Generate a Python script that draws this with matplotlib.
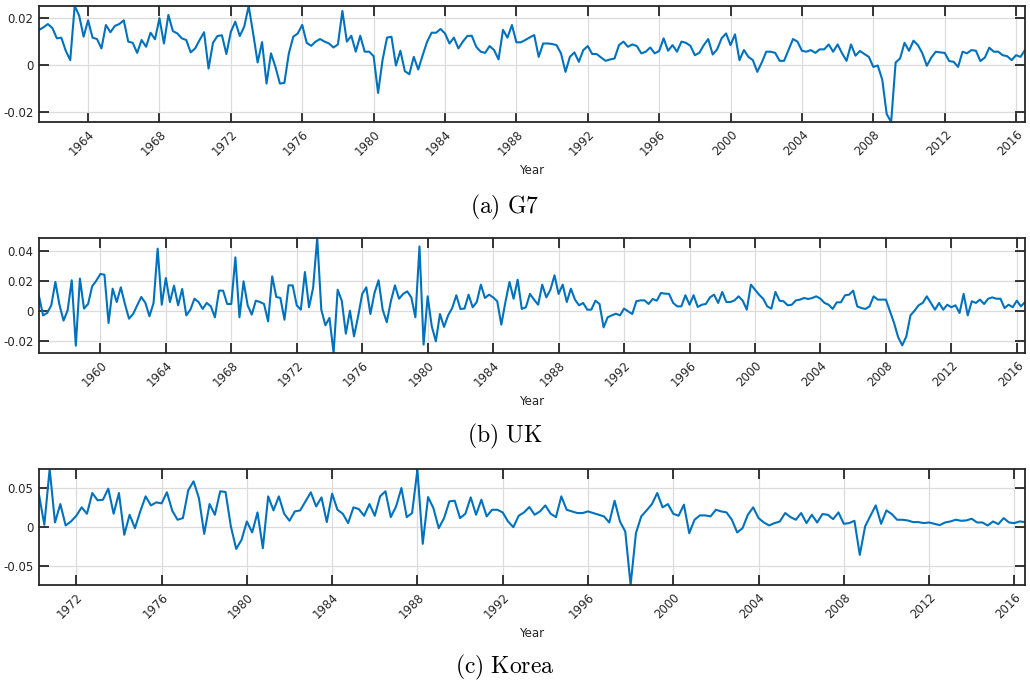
import numpy as np
import matplotlib
matplotlib.use("Agg")
import matplotlib.pyplot as plt

plt.rcParams['mathtext.fontset'] = 'cm'
plt.rcParams['font.family'] = 'DejaVu Sans'

# quarterly growth rates
g7_start = 1961.25
g7 = [0.0149, 0.0160, 0.0174, 0.0157, 0.0113, 0.0116, 0.0060, 0.0020, 0.0251, 0.0210,
      0.0120, 0.0190, 0.0116, 0.0110, 0.0070, 0.0170, 0.0139, 0.0166, 0.0174, 0.0190,
      0.0099, 0.0094, 0.0051, 0.0106, 0.0077, 0.0137, 0.0109, 0.0199, 0.0091, 0.0213,
      0.0144, 0.0134, 0.0113, 0.0106, 0.0053, 0.0070, 0.0106, 0.0139, -0.0016, 0.0094,
      0.0123, 0.0126, 0.0046, 0.0141, 0.0184, 0.0123, 0.0163, 0.0251, 0.0134, 0.0010,
      0.0097, -0.0080, 0.0049, -0.0009, -0.0080, -0.0077, 0.0049, 0.0120, 0.0134, 0.0170,
      0.0094, 0.0081, 0.0099, 0.0110, 0.0099, 0.0091, 0.0074, 0.0087, 0.0230, 0.0099,
      0.0124, 0.0056, 0.0124, 0.0056, 0.0056, 0.0037, -0.0120, 0.0020, 0.0116, 0.0120,
      -0.0003, 0.0060, -0.0027, -0.0040, 0.0034, -0.0020, 0.0041, 0.0099, 0.0137, 0.0137,
      0.0153, 0.0134, 0.0091, 0.0116, 0.0070, 0.0099, 0.0123, 0.0124, 0.0077, 0.0056,
      0.0051, 0.0080, 0.0063, 0.0023, 0.0149, 0.0116, 0.0170, 0.0096, 0.0096, 0.0106,
      0.0117, 0.0127, 0.0034, 0.0091, 0.0091, 0.0089, 0.0084, 0.0049, -0.0030, 0.0034,
      0.0053, 0.0013, 0.0063, 0.0080, 0.0046, 0.0046, 0.0031, 0.0017, 0.0023, 0.0027,
      0.0084, 0.0099, 0.0077, 0.0087, 0.0080, 0.0049, 0.0056, 0.0074, 0.0049, 0.0059,
      0.0113, 0.0060, 0.0084, 0.0056, 0.0099, 0.0094, 0.0081, 0.0041, 0.0051, 0.0084,
      0.0110, 0.0044, 0.0066, 0.0113, 0.0134, 0.0084, 0.0130, 0.0020, 0.0063, 0.0034,
      0.0020, -0.0030, 0.0010, 0.0056, 0.0056, 0.0051, 0.0017, 0.0017, 0.0063, 0.0110,
      0.0099, 0.0060, 0.0056, 0.0063, 0.0051, 0.0066, 0.0066, 0.0087, 0.0056, 0.0087,
      0.0049, 0.0017, 0.0087, 0.0039, 0.0059, 0.0046, 0.0034, -0.0009, -0.0003, -0.0063,
      -0.0210, -0.0244, 0.0010, 0.0027, 0.0094, 0.0060, 0.0103, 0.0084, 0.0049, -0.0004,
      0.0031, 0.0056, 0.0053, 0.0051, 0.0016, 0.0013, -0.0009, 0.0056, 0.0049, 0.0063,
      0.0060, 0.0016, 0.0031, 0.0073, 0.0056, 0.0056, 0.0041, 0.0037, 0.0020, 0.0041,
      0.0034, 0.0063]

uk_start = 1956.25
uk = [0.0100, -0.0027, -0.0011, 0.0040, 0.0196, 0.0044, -0.0062, 0.0007, 0.0207, -0.0229,
      0.0218, 0.0018, 0.0049, 0.0167, 0.0204, 0.0249, 0.0244, -0.0078, 0.0151, 0.0062,
      0.0160, 0.0049, -0.0049, -0.0018, 0.0040, 0.0096, 0.0056, -0.0033, 0.0056, 0.0418,
      0.0044, 0.0222, 0.0062, 0.0171, 0.0040, 0.0149, -0.0027, 0.0011, 0.0084, 0.0062,
      0.0016, 0.0056, 0.0033, -0.0040, 0.0138, 0.0138, 0.0049, 0.0049, 0.0360, -0.0040,
      0.0200, 0.0040, -0.0022, 0.0071, 0.0062, 0.0049, -0.0067, 0.0233, 0.0096, 0.0089,
      -0.0056, 0.0173, 0.0173, 0.0040, 0.0011, 0.0262, 0.0027, 0.0156, 0.0489, 0.0011,
      -0.0093, -0.0044, -0.0278, 0.0144, 0.0071, -0.0149, 0.0004, -0.0167, -0.0033, 0.0116,
      0.0160, -0.0018, 0.0122, 0.0207, 0.0011, -0.0073, 0.0067, 0.0173, 0.0084, 0.0116,
      0.0133, 0.0093, -0.0040, 0.0433, -0.0222, 0.0100, -0.0100, -0.0200, -0.0018, -0.0104,
      -0.0027, 0.0022, 0.0107, 0.0016, 0.0018, 0.0111, 0.0027, 0.0062, 0.0178, 0.0089,
      0.0111, 0.0093, 0.0067, -0.0089, 0.0062, 0.0196, 0.0084, 0.0211, 0.0016, 0.0027,
      0.0116, 0.0078, 0.0044, 0.0178, 0.0093, 0.0144, 0.0240, 0.0116, 0.0178, 0.0062,
      0.0151, 0.0078, 0.0040, 0.0056, 0.0011, 0.0011, 0.0071, 0.0049, -0.0107, -0.0040,
      -0.0027, -0.0016, -0.0027, 0.0018, 0.0000, -0.0018, 0.0067, 0.0073, 0.0073, 0.0049,
      0.0082, 0.0071, 0.0122, 0.0118, 0.0116, 0.0056, 0.0033, 0.0033, 0.0107, 0.0044,
      0.0107, 0.0029, 0.0044, 0.0049, 0.0093, 0.0111, 0.0056, 0.0129, 0.0062, 0.0062,
      0.0073, 0.0100, 0.0071, 0.0011, 0.0178, 0.0144, 0.0111, 0.0084, 0.0033, 0.0018,
      0.0129, 0.0071, 0.0067, 0.0040, 0.0044, 0.0073, 0.0078, 0.0089, 0.0082, 0.0089,
      0.0100, 0.0084, 0.0056, 0.0044, 0.0016, 0.0060, 0.0060, 0.0107, 0.0111, 0.0138,
      0.0033, 0.0022, 0.0016, 0.0033, 0.0100, 0.0078, 0.0078, 0.0078, 0.0000, -0.0078,
      -0.0173, -0.0227, -0.0167, -0.0027, 0.0004, 0.0040, 0.0056, 0.0100, 0.0056, 0.0011,
      0.0056, 0.0011, 0.0044, 0.0027, 0.0040, -0.0011, 0.0116, -0.0027, 0.0067, 0.0056,
      0.0078, 0.0049, 0.0084, 0.0093, 0.0084, 0.0084, 0.0022, 0.0044, 0.0027, 0.0071,
      0.0033, 0.0062]

korea_start = 1970.25
korea = [0.0420, 0.0034, 0.0750, 0.0064, 0.0300, 0.0026, 0.0077, 0.0150, 0.0258, 0.0176,
         0.0442, 0.0348, 0.0356, 0.0498, 0.0176, 0.0442, -0.0094, 0.0163, -0.0009, 0.0206,
         0.0399, 0.0283, 0.0322, 0.0309, 0.0451, 0.0215, 0.0099, 0.0120, 0.0476, 0.0592,
         0.0378, -0.0082, 0.0300, 0.0163, 0.0464, 0.0455, 0.0013, -0.0275, -0.0159, 0.0077,
         -0.0064, 0.0193, -0.0266, 0.0399, 0.0219, 0.0399, 0.0176, 0.0086, 0.0206, 0.0219,
         0.0335, 0.0451, 0.0270, 0.0386, 0.0069, 0.0433, 0.0227, 0.0176, 0.0056, 0.0258,
         0.0236, 0.0150, 0.0300, 0.0150, 0.0399, 0.0464, 0.0133, 0.0270, 0.0506, 0.0133,
         0.0185, 0.0742, -0.0210, 0.0390, 0.0249, -0.0009, 0.0120, 0.0335, 0.0343, 0.0120,
         0.0176, 0.0386, 0.0163, 0.0356, 0.0142, 0.0227, 0.0227, 0.0193, 0.0077, 0.0004,
         0.0150, 0.0193, 0.0262, 0.0163, 0.0206, 0.0283, 0.0176, 0.0133, 0.0399, 0.0227,
         0.0206, 0.0185, 0.0185, 0.0206, 0.0185, 0.0163, 0.0142, 0.0064, 0.0343, 0.0077,
         -0.0052, -0.0738, -0.0073, 0.0142, 0.0219, 0.0300, 0.0442, 0.0258, 0.0300, 0.0176,
         0.0150, 0.0292, -0.0073, 0.0099, 0.0155, 0.0155, 0.0142, 0.0227, 0.0206, 0.0193,
         0.0099, -0.0064, -0.0009, 0.0163, 0.0258, 0.0120, 0.0064, 0.0026, 0.0056, 0.0077,
         0.0185, 0.0133, 0.0099, 0.0185, 0.0056, 0.0163, 0.0064, 0.0172, 0.0163, 0.0107,
         0.0193, 0.0047, 0.0056, 0.0086, -0.0352, 0.0013, 0.0150, 0.0283, 0.0047, 0.0219,
         0.0172, 0.0099, 0.0099, 0.0090, 0.0069, 0.0069, 0.0056, 0.0064, 0.0047, 0.0030,
         0.0064, 0.0077, 0.0099, 0.0086, 0.0090, 0.0112, 0.0064, 0.0064, 0.0026, 0.0077,
         0.0043, 0.0120, 0.0064, 0.0056, 0.0077, 0.0069]

# ticks and labels
g7_yticks = [-0.02, 0, 0.02]
g7_ylabels = ['-0.02', '0', '0.02']
uk_yticks = [-0.02, 0, 0.02, 0.04]
uk_ylabels = ['-0.02', '0', '0.02', '0.04']
korea_yticks = [-0.05, 0, 0.05]
korea_ylabels = ['-0.05', '0', '0.05']
g7_years = list(range(1964, 2017, 4))
uk_years = list(range(1960, 2017, 4))
korea_years = list(range(1972, 2017, 4))
captions = ['(a)\\ G7', '(b)\\ UK', '(c)\\ Korea']

panels = [
    (g7_start, g7, g7_yticks, g7_ylabels, g7_years),
    (uk_start, uk, uk_yticks, uk_ylabels, uk_years),
    (korea_start, korea, korea_yticks, korea_ylabels, korea_years),
]

W, H = 1030, 682
fig = plt.figure(figsize=(W / 100, H / 100), dpi=100)

# axes boxes in pixels: (top, bottom)
boxes = [(6, 122), (238, 353), (469, 585)]
caption_y = [207, 436, 667]
left, right = 39, 1025
dark = '#262626'

for (start, vals, yt, yl, yrs), (top, bot), cap, cy in zip(panels, boxes, captions, caption_y):
    ax = fig.add_axes([left / W, 1 - bot / H, (right - left) / W, (bot - top) / H])
    x = start + 0.25 * np.arange(len(vals))
    ax.plot(x, vals, color='#0072BD', lw=1.5)
    ax.set_xlim(x[0], x[-1])
    ax.set_ylim(min(vals), max(vals))
    ax.set_yticks(yt)
    ax.set_yticklabels(yl)
    ax.set_xticks(yrs)
    ax.set_xticklabels([str(y) for y in yrs], rotation=45, ha='right',
                       rotation_mode='anchor')
    ax.grid(True, color='#dcdcdc', lw=0.9)
    ax.set_axisbelow(True)
    ax.tick_params(direction='in', length=7, width=1.3, top=True, right=True,
                   colors=dark, labelsize=8.5, pad=4)
    for s in ax.spines.values():
        s.set_color(dark)
        s.set_linewidth(1.3)
    ax.set_xlabel('Year', fontsize=8.5, color=dark, labelpad=4)
    fig.text(0.49, 1 - cy / H, '$\\mathrm{' + cap + '}$', fontsize=17,
             ha='center', va='center')

fig.savefig('out.png', dpi=100)
